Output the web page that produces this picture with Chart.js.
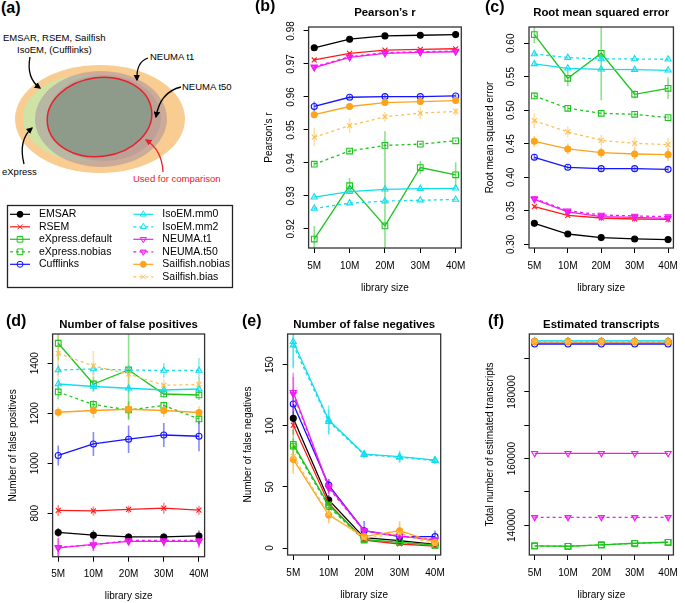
<!DOCTYPE html>
<html><head><meta charset="utf-8">
<script src="https://cdn.jsdelivr.net/npm/chart.js@4.4.1/dist/chart.umd.min.js"></script>
<style>
html,body{margin:0;padding:0;background:#fff;}
body{width:685px;height:603px;position:relative;overflow:hidden;font-family:"Liberation Sans",Arial,sans-serif;}
canvas,svg{position:absolute;left:0;top:0;}
</style></head><body>
<svg id="venn" width="240" height="200" viewBox="0 0 240 200" font-family="Liberation Sans, Arial, sans-serif">
<defs>
<marker id="ak" viewBox="0 0 10 10" refX="8" refY="5" markerWidth="5" markerHeight="5" orient="auto"><path d="M0,0 L10,5 L0,10 z" fill="#000"/></marker>
<marker id="ar" viewBox="0 0 10 10" refX="8" refY="5" markerWidth="5" markerHeight="5" orient="auto"><path d="M0,0 L10,5 L0,10 z" fill="#E8202A"/></marker>
</defs>
<text x="1" y="13" font-weight="bold" font-size="16">(a)</text>
<ellipse cx="100" cy="119" rx="85" ry="54" fill="#F9CD92"/>
<ellipse cx="86" cy="118" rx="63" ry="43" fill="#CFE3A6"/>
<ellipse cx="101" cy="119" rx="66" ry="48" fill="#A08CA0" fill-opacity="0.5"/>
<ellipse cx="104" cy="118" rx="57" ry="43" fill="#8C788C" fill-opacity="0.22"/>
<ellipse cx="99.5" cy="117" rx="52.5" ry="39.5" transform="rotate(-8 99.5 117)" fill="#8E9B8B" stroke="#E8202A" stroke-width="1.5"/>
<path d="M30 57 Q26 78 40 88" fill="none" stroke="#000" stroke-width="1.3" marker-end="url(#ak)"/>
<path d="M148 58 Q136 62 137 80" fill="none" stroke="#000" stroke-width="1.3" marker-end="url(#ak)"/>
<path d="M181 87 Q160 92 156 117" fill="none" stroke="#000" stroke-width="1.3" marker-end="url(#ak)"/>
<path d="M24 164 Q18 140 32 128" fill="none" stroke="#000" stroke-width="1.3" marker-end="url(#ak)"/>
<path d="M163 172 Q162 150 146 140" fill="none" stroke="#E8202A" stroke-width="1.3" marker-end="url(#ar)"/>
<text x="3" y="41" font-size="9.5">EMSAR, RSEM, Sailfish</text>
<text x="17" y="53" font-size="9.5">IsoEM, (Cufflinks)</text>
<text x="150" y="60" font-size="9.5">NEUMA t1</text>
<text x="182" y="90" font-size="9.5">NEUMA t50</text>
<text x="2" y="175" font-size="9.5">eXpress</text>
<text x="133" y="182" font-size="9.5" fill="#E8202A">Used for comparison</text>
</svg>
<canvas id="legend" width="685" height="603"></canvas>
<script>
const FONT = '"Liberation Sans", Arial, sans-serif';
Chart.defaults.font.family = FONT;
Chart.defaults.color = '#000';

// ---------- data ----------
const librarySizes = ['5M','10M','20M','30M','40M'];
const methodNames = ['EMSAR','RSEM','eXpress.default','eXpress.nobias','Cufflinks','IsoEM.mm0','IsoEM.mm2','NEUMA.t1','NEUMA.t50','Sailfish.nobias','Sailfish.bias'];

// (b) Pearson's r, rows follow methodNames
const pearsonR = [
 [0.9749,0.9775,0.9785,0.9787,0.9789],
 [0.9712,0.9732,0.9742,0.9744,0.9746],
 [0.9169,0.9331,0.9209,0.9386,0.9364],
 [0.9396,0.9436,0.9453,0.9457,0.9467],
 [0.9571,0.9599,0.9601,0.9601,0.9603],
 [0.9296,0.9313,0.9320,0.9322,0.9323],
 [0.9262,0.9278,0.9284,0.9287,0.9289],
 [0.9689,0.9720,0.9732,0.9735,0.9737],
 [0.9691,0.9722,0.9734,0.9737,0.9739],
 [0.9546,0.9571,0.9583,0.9586,0.9589],
 [0.9478,0.9513,0.9540,0.9551,0.9556]
];
const pearsonErr = [
 [0.0005,0.0003,0.0002,0.0002,0.0002],
 [0.0005,0.0004,0.0003,0.0003,0.0003],
 [0.0040,0.0023,0.0287,0.0020,0.0038],
 [0.0006,0.0005,0.0004,0.0003,0.0003],
 [0.0015,0.0006,0.0006,0.0005,0.0005],
 [0.0004,0.0003,0.0003,0.0002,0.0002],
 [0.0004,0.0003,0.0003,0.0002,0.0002],
 [0.0006,0.0005,0.0004,0.0004,0.0004],
 [0.0006,0.0005,0.0004,0.0004,0.0004],
 [0.0010,0.0010,0.0009,0.0008,0.0008],
 [0.0028,0.0022,0.0015,0.0018,0.0012]
];
const pearsonTicks = [0.92,0.93,0.94,0.95,0.96,0.97,0.98];
const pearsonTickLabels = ['0.92','0.93','0.94','0.95','0.96','0.97','0.98'];

// (c) Root mean squared error
const rmse = [
 [0.3313,0.3154,0.3100,0.3080,0.3070],
 [0.3562,0.3433,0.3393,0.3378,0.3373],
 [0.6129,0.5478,0.5851,0.5239,0.5328],
 [0.5214,0.5030,0.4955,0.4940,0.4891],
 [0.4299,0.4149,0.4129,0.4129,0.4119],
 [0.5692,0.5627,0.5612,0.5607,0.5597],
 [0.5841,0.5786,0.5766,0.5766,0.5761],
 [0.3672,0.3483,0.3413,0.3403,0.3388],
 [0.3682,0.3502,0.3438,0.3423,0.3413],
 [0.4537,0.4423,0.4368,0.4348,0.4338],
 [0.4846,0.4677,0.4552,0.4507,0.4488]
];
const rmseErr = [
 [0.003,0.002,0.002,0.002,0.002],
 [0.003,0.002,0.002,0.002,0.002],
 [0.013,0.012,0.070,0.006,0.016],
 [0.005,0.004,0.003,0.003,0.003],
 [0.005,0.003,0.003,0.003,0.003],
 [0.003,0.002,0.002,0.002,0.002],
 [0.003,0.002,0.002,0.002,0.002],
 [0.004,0.003,0.003,0.003,0.003],
 [0.004,0.003,0.003,0.003,0.003],
 [0.008,0.008,0.008,0.008,0.009],
 [0.011,0.008,0.008,0.009,0.010]
];
const rmseTicks = [0.30,0.35,0.40,0.45,0.50,0.55,0.60];
const rmseTickLabels = ['0.30','0.35','0.40','0.45','0.50','0.55','0.60'];

// (d) Number of false positives
const falsePositives = [
 [723,712,705,705,709],
 [811,809,815,820,812],
 [1480,1317,1373,1277,1273],
 [1285,1235,1213,1231,1177],
 [1031,1077,1096,1113,1108],
 [1317,1307,1300,1293,1297],
 [1373,1377,1373,1371,1371],
 [661,675,687,687,687],
 [664,673,691,691,691],
 [1204,1211,1216,1211,1203],
 [1440,1389,1357,1312,1315]
];
const falsePositivesErr = [
 [18,20,15,15,22],
 [22,18,15,22,18],
 [70,30,200,15,20],
 [30,18,35,15,20],
 [40,48,55,48,60],
 [22,20,18,18,20],
 [22,25,20,30,50],
 [40,25,18,20,25],
 [35,25,18,20,25],
 [20,30,20,25,25],
 [100,60,40,25,30]
];
const fpTicks = [800,1000,1200,1400];
const fpTickLabels = ['800','1000','1200','1400'];

// (e) Number of false negatives
const falseNegatives = [
 [106.1,39.3,8.5,6.0,3.0],
 [100.6,36.5,6.5,3.3,1.6],
 [84.8,35.2,7.1,4.6,2.5],
 [83.4,33.8,6.5,4.6,2.2],
 [117.8,51.5,14.2,9.3,9.3],
 [168.8,104.7,76.9,74.7,72.0],
 [166.0,103.4,76.4,74.2,71.5],
 [127.4,50.2,14.2,9.8,6.5],
 [126.0,49.0,14.0,10.0,7.0],
 [72.5,27.0,9.3,14.2,4.6],
 [75.0,28.0,8.0,12.0,3.0]
];
const falseNegativesErr = [
 [6,4,2,2,1],
 [8,4,2,1,1],
 [12,5,2,2,1],
 [6,4,2,2,1],
 [12,5,8,3,5],
 [22,12,3,5,3],
 [18,10,3,4,3],
 [16,6,3,2,2],
 [14,6,3,2,2],
 [12,7,3,8,3],
 [12,7,3,8,3]
];
const fnTicks = [0,50,100,150];
const fnTickLabels = ['0','50','100','150'];

// (f) Estimated transcripts
const estimatedTranscripts = [
 [195100,195100,195100,195100,195100],
 [195100,195100,195100,195100,195100],
 [133800,133700,134100,134600,134900],
 [133800,133700,134100,134600,134900],
 [194400,194400,194400,194400,194400],
 [195300,195300,195300,195300,195300],
 [195300,195300,195300,195300,195300],
 [161600,161600,161600,161600,161600],
 [142400,142400,142400,142400,142400],
 [195100,195100,195100,195100,195100],
 [195100,195100,195100,195100,195100]
];
const estTicks = [140000,150000,160000,170000,180000,190000];
const estTickLabels = ['140000','','160000','','180000',''];

// ---------- styles ----------
const methodStyles = [
 {line:'#000000', err:'rgba(0,0,0,0.5)', fill:'#000000', dash:[], point:'circle', r:3},
 {line:'#FF1A1A', err:'rgba(255,26,26,0.5)', fill:'rgba(0,0,0,0)', dash:[], point:'crossRot', r:3.5},
 {line:'#1DC41D', err:'rgba(29,196,29,0.5)', fill:'rgba(0,0,0,0)', dash:[], point:'rect', r:4},
 {line:'#1DC41D', err:'rgba(29,196,29,0.5)', fill:'rgba(0,0,0,0)', dash:[3,3], point:'rect', r:4},
 {line:'#1414FF', err:'rgba(20,20,255,0.5)', fill:'rgba(0,0,0,0)', dash:[], point:'circle', r:3},
 {line:'#12DDEE', err:'rgba(18,221,238,0.5)', fill:'rgba(0,0,0,0)', dash:[], point:'triangle', r:3.5},
 {line:'#12DDEE', err:'rgba(18,221,238,0.5)', fill:'rgba(0,0,0,0)', dash:[3,3], point:'triangle', r:3.5},
 {line:'#F21AF2', err:'rgba(242,26,242,0.5)', fill:'rgba(0,0,0,0)', dash:[], point:'triangle', rot:180, r:3.5},
 {line:'#F21AF2', err:'rgba(242,26,242,0.5)', fill:'rgba(242,26,242,0.5)', dash:[3,3], point:'triangle', rot:180, r:3.5},
 {line:'#FFA31A', err:'rgba(255,163,26,0.5)', fill:'#FFA31A', dash:[], point:'circle', r:3},
 {line:'#FFBF55', err:'rgba(255,191,85,0.5)', fill:'rgba(0,0,0,0)', dash:[3,3], point:'crossRot', r:3.5}
];

const panels = [
 {letter:'(b)', letterX:255, letterY:7, title:'Pearson\u2019s r', ylab:'Pearson\u2019s r', values:pearsonR, errs:pearsonErr,
  box:[308.6,27,461.3,248], yMin:0.9142, yMax:0.9812, ticks:pearsonTicks, labels:pearsonTickLabels, titleY:13},
 {letter:'(c)', letterX:485, letterY:8, title:'Root mean squared error', ylab:'Root mean squared error', values:rmse, errs:rmseErr,
  box:[529,27,682.4,248], yMin:0.2945, yMax:0.6243, ticks:rmseTicks, labels:rmseTickLabels, titleY:13},
 {letter:'(d)', letterX:6, letterY:322, title:'Number of false positives', ylab:'Number of false positives', values:falsePositives, errs:falsePositivesErr,
  box:[52.6,334,204.6,556.7], yMin:626, yMax:1517, ticks:fpTicks, labels:fpTickLabels, titleY:325},
 {letter:'(e)', letterX:242, letterY:322, title:'Number of false negatives', ylab:'Number of false negatives', values:falseNegatives, errs:falseNegativesErr,
  box:[287.6,334,440.7,555], yMin:-5.7, yMax:175.1, ticks:fnTicks, labels:fnTickLabels, titleY:325},
 {letter:'(f)', letterX:488, letterY:322, title:'Estimated transcripts', ylab:'Total number of estimated transcripts', values:estimatedTranscripts, errs:null,
  box:[529.3,334,682.4,555], yMin:131080, yMax:197400, ticks:estTicks, labels:estTickLabels, titleY:325}
];

const XAXIS_H = 30;

const errorBars = {
 id:'errorBars',
 beforeDatasetsDraw(chart){
  const {ctx, chartArea:a} = chart; const ys = chart.scales.y;
  ctx.save(); ctx.beginPath(); ctx.rect(a.left,a.top,a.right-a.left,a.bottom-a.top); ctx.clip();
  chart.data.datasets.forEach((ds,i)=>{
   if(!ds.err) return;
   const meta = chart.getDatasetMeta(i);
   ctx.strokeStyle = ds.errColor; ctx.lineWidth = 1.6;
   ds.data.forEach((d,j)=>{
    const e = ds.err[j]; if(!e) return;
    const x = meta.data[j].x;
    ctx.beginPath(); ctx.moveTo(x, ys.getPixelForValue(d.y-e)); ctx.lineTo(x, ys.getPixelForValue(d.y+e)); ctx.stroke();
   });
  });
  ctx.restore();
 }
};

function makeDecor(p){
 return {
  id:'rDecor',
  afterDraw(chart){
   const {ctx, chartArea:a} = chart; const ys = chart.scales.y;
   ctx.save();
   ctx.strokeStyle='#333'; ctx.lineWidth=1.3;
   ctx.strokeRect(a.left, a.top, a.right-a.left, a.bottom-a.top);
   ctx.fillStyle='#000';
   ctx.font = '10px '+FONT; ctx.textAlign='center'; ctx.textBaseline='middle';
   p.ticks.forEach((v,k)=>{
    const t = p.labels[k]; if(!t) return;
    const y = ys.getPixelForValue(v);
    ctx.save(); ctx.translate(a.left-17.5, y); ctx.rotate(-Math.PI/2); ctx.fillText(t,0,0); ctx.restore();
   });
   ctx.save(); ctx.translate(a.left-39, (a.top+a.bottom)/2); ctx.rotate(-Math.PI/2); ctx.fillText(p.ylab,0,0); ctx.restore();
   ctx.fillText('library size', (a.left+a.right)/2, a.bottom+40);
   ctx.font = 'bold 11.4px '+FONT;
   ctx.fillText(p.title, (a.left+a.right)/2, p.titleY);
   ctx.font = 'bold 16px '+FONT; ctx.textAlign='left';
   ctx.fillText(p.letter, p.letterX, p.letterY);
   ctx.restore();
  }
 };
}

panels.forEach(p=>{
 const cv = document.createElement('canvas');
 cv.width=685; cv.height=603;
 document.body.appendChild(cv);
 const datasets = methodNames.map((name,i)=>{
  const st = methodStyles[i];
  return {
   label:name,
   data:p.values[i].map((v,j)=>({x:j+1, y:v})),
   err:p.errs ? p.errs[i] : null,
   errColor:st.err,
   borderColor:st.line, backgroundColor:st.fill,
   borderWidth:1.3, borderDash:st.dash,
   pointStyle:st.point, pointRotation:st.rot||0, pointRadius:st.r,
   pointBorderColor:st.line, pointBackgroundColor:st.fill, pointBorderWidth:1.1,
   tension:0, fill:false, order:methodNames.length-i
  };
 });
 new Chart(cv, {
  type:'line',
  data:{datasets},
  options:{
   responsive:false, animation:false, devicePixelRatio:1,
   layout:{padding:{left:p.box[0], top:p.box[1], right:685-p.box[2], bottom:603-p.box[3]-XAXIS_H}},
   plugins:{legend:{display:false}, tooltip:{enabled:false}, title:{display:false}},
   scales:{
    x:{type:'linear', min:0.84, max:5.16,
       afterBuildTicks:s=>{ s.ticks=[1,2,3,4,5].map(v=>({value:v})); },
       afterFit:s=>{ s.height=XAXIS_H; },
       grid:{drawOnChartArea:false, drawTicks:true, tickLength:5, color:'#000', lineWidth:1},
       border:{display:false},
       ticks:{callback:(v)=>librarySizes[Math.round(v)-1], font:{size:10, family:FONT}, color:'#000', padding:7, maxRotation:0, minRotation:0, autoSkip:false}},
    y:{type:'linear', min:p.yMin, max:p.yMax,
       afterBuildTicks:s=>{ s.ticks=p.ticks.map(v=>({value:v})); },
       afterFit:s=>{ s.width=0; },
       grid:{drawOnChartArea:false, drawTicks:true, tickLength:5, color:'#000', lineWidth:1},
       border:{display:false},
       ticks:{display:false}}
   }
  },
  plugins:[errorBars, makeDecor(p)]
 });
});

// ---------- legend ----------
(function(){
 const c = document.getElementById('legend'); const ctx = c.getContext('2d');
 ctx.strokeStyle='#222'; ctx.lineWidth=1.3; ctx.strokeRect(7.5,205.5,225,82);
 const rowsY=[214.3,226.8,239.3,251.8,264.3,276.8];
 methodNames.forEach((name,i)=>{
  const col = i<5?0:1; const row = i<5?i:i-5;
  const x0 = col?133.3:10; const y = rowsY[row];
  const st = methodStyles[i];
  ctx.save(); ctx.strokeStyle=st.line; ctx.lineWidth=1.2; ctx.setLineDash(st.dash);
  ctx.beginPath(); ctx.moveTo(x0,y); ctx.lineTo(x0+20,y); ctx.stroke(); ctx.restore();
  ctx.save(); ctx.fillStyle=st.fill; ctx.strokeStyle=st.line; ctx.lineWidth=1;
  if (Chart.helpers && Chart.helpers.drawPoint) {
   Chart.helpers.drawPoint(ctx,{pointStyle:st.point, rotation:st.rot||0, radius:st.r, borderWidth:1}, x0+10, y);
  }
  ctx.restore();
  ctx.fillStyle='#000'; ctx.font='10.5px '+FONT; ctx.textBaseline='middle'; ctx.textAlign='left';
  ctx.fillText(name, x0+29, y);
 });
})();
</script>
</body></html>
